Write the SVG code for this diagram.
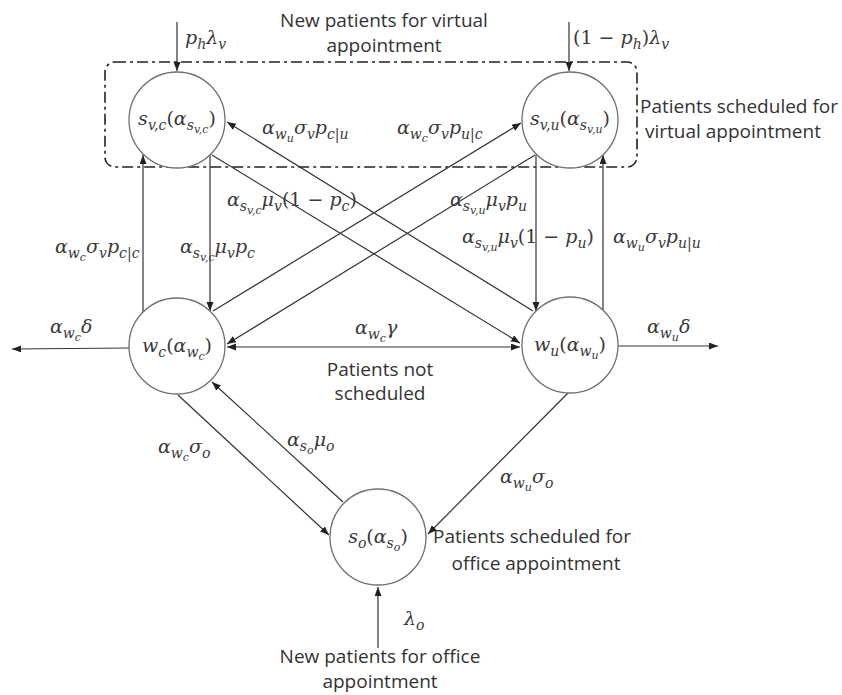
<svg xmlns="http://www.w3.org/2000/svg" width="842" height="695" viewBox="0 0 842 695">
<style>
.bg{fill:#fff}
.node{fill:#fff;stroke:#707070;stroke-width:1.3}
.ln{stroke:#333;stroke-width:1.2;fill:none}
.arr{marker-end:url(#ah)}
.box{fill:none;stroke:#222;stroke-width:1.6;stroke-dasharray:11 4 3 4}
.t{font-family:"Open Sans","Noto Sans",sans-serif;font-size:19px;fill:#333}
.m{font-family:"DejaVu Serif",serif;font-style:italic;font-size:19px;fill:#3a3a3a}
.r{font-style:normal}
.s{font-size:14px}
.ss{font-size:11px}
</style>
<defs>
<marker id="ah" markerUnits="userSpaceOnUse" markerWidth="10" markerHeight="8" refX="9" refY="3.5" orient="auto-start-reverse">
<path d="M0,0 L9,3.5 L0,7 z" fill="#222"/>
</marker>
</defs>
<rect class="bg" x="0" y="0" width="842" height="695"/>

<g id="virtual-group">
<rect class="box" x="105" y="62" width="532" height="105" rx="10"/>
<text class="t" x="640" y="113">Patients scheduled for</text>
<text class="t" x="645" y="138">virtual appointment</text>
</g>

<g id="connectors">
<line class="ln arr" x1="177" y1="22" x2="177" y2="71"/>
<line class="ln arr" x1="569" y1="22" x2="569" y2="71"/>
<line class="ln arr" x1="143" y1="313" x2="143" y2="155"/>
<line class="ln arr" x1="210" y1="154" x2="210" y2="311"/>
<line class="ln arr" x1="536" y1="155" x2="536" y2="311"/>
<line class="ln arr" x1="603" y1="311" x2="603" y2="155"/>
<line class="ln arr" x1="212" y1="155" x2="520" y2="343"/>
<line class="ln arr" x1="533" y1="311" x2="227" y2="122"/>
<line class="ln arr" x1="213" y1="311" x2="521" y2="123"/>
<line class="ln arr" x1="535" y1="155" x2="227" y2="344"/>
<line class="ln arr" x1="227" y1="347" x2="520" y2="347" style="marker-start:url(#ah)"/>
<line class="ln arr" x1="129" y1="348" x2="12" y2="349"/>
<line class="ln arr" x1="618" y1="346" x2="718" y2="346"/>
<line class="ln arr" x1="178" y1="395" x2="329" y2="535"/>
<line class="ln arr" x1="343" y1="502" x2="212" y2="382"/>
<line class="ln arr" x1="568" y1="393" x2="428" y2="534"/>
<line class="ln arr" x1="378" y1="648" x2="378" y2="587"/>
</g>

<g id="node-svc">
<circle class="node" cx="177" cy="120" r="48"/>
<text class="m" x="177" y="125" text-anchor="middle">s<tspan class="s" dy="5">v,c</tspan><tspan class="r" dy="-5">(</tspan>α<tspan class="s" dy="5">s</tspan><tspan class="ss" dy="3">v,c</tspan><tspan class="r" dy="-8">)</tspan></text>
</g>
<g id="node-svu">
<circle class="node" cx="570" cy="120" r="48"/>
<text class="m" x="570" y="125" text-anchor="middle">s<tspan class="s" dy="5">v,u</tspan><tspan class="r" dy="-5">(</tspan>α<tspan class="s" dy="5">s</tspan><tspan class="ss" dy="3">v,u</tspan><tspan class="r" dy="-8">)</tspan></text>
</g>
<g id="node-wc">
<circle class="node" cx="177" cy="346" r="48"/>
<text class="m" x="177" y="352" text-anchor="middle">w<tspan class="s" dy="5">c</tspan><tspan class="r" dy="-5">(</tspan>α<tspan class="s" dy="5">w</tspan><tspan class="ss" dy="3">c</tspan><tspan class="r" dy="-8">)</tspan></text>
</g>
<g id="node-wu">
<circle class="node" cx="570" cy="345" r="48"/>
<text class="m" x="570" y="351" text-anchor="middle">w<tspan class="s" dy="5">u</tspan><tspan class="r" dy="-5">(</tspan>α<tspan class="s" dy="5">w</tspan><tspan class="ss" dy="3">u</tspan><tspan class="r" dy="-8">)</tspan></text>
</g>
<g id="node-so">
<circle class="node" cx="378" cy="537" r="48"/>
<text class="m" x="378" y="543" text-anchor="middle">s<tspan class="s" dy="5">o</tspan><tspan class="r" dy="-5">(</tspan>α<tspan class="s" dy="5">s</tspan><tspan class="ss" dy="3">o</tspan><tspan class="r" dy="-8">)</tspan></text>
</g>

<g id="labels">
<text class="t" x="384" y="27" text-anchor="middle">New patients for virtual</text>
<text class="t" x="384" y="52" text-anchor="middle">appointment</text>
<text class="t" x="380" y="376" text-anchor="middle">Patients not</text>
<text class="t" x="380" y="400" text-anchor="middle">scheduled</text>
<text class="t" x="433" y="543">Patients scheduled for</text>
<text class="t" x="536" y="570" text-anchor="middle">office appointment</text>
<text class="t" x="380" y="663" text-anchor="middle">New patients for office</text>
<text class="t" x="380" y="688" text-anchor="middle">appointment</text>

<text class="m" x="185" y="44">p<tspan class="s" dy="5">h</tspan><tspan dy="-5">λ</tspan><tspan class="s" dy="5">v</tspan></text>
<text class="m" x="573" y="44"><tspan class="r">(1 − </tspan>p<tspan class="s" dy="5">h</tspan><tspan class="r" dy="-5">)</tspan>λ<tspan class="s" dy="5">v</tspan></text>

<text class="m" x="262" y="134">α<tspan class="s" dy="5">w</tspan><tspan class="ss" dy="3">u</tspan><tspan dy="-8">σ</tspan><tspan class="s" dy="5">v</tspan><tspan dy="-5">p</tspan><tspan class="s" dy="5">c|u</tspan></text>
<text class="m" x="397" y="134">α<tspan class="s" dy="5">w</tspan><tspan class="ss" dy="3">c</tspan><tspan dy="-8">σ</tspan><tspan class="s" dy="5">v</tspan><tspan dy="-5">p</tspan><tspan class="s" dy="5">u|c</tspan></text>

<text class="m" x="227" y="206">α<tspan class="s" dy="5">s</tspan><tspan class="ss" dy="3">v,c</tspan><tspan dy="-8">μ</tspan><tspan class="s" dy="5">v</tspan><tspan class="r" dy="-5">(1 − </tspan>p<tspan class="s" dy="5">c</tspan><tspan class="r" dy="-5">)</tspan></text>
<text class="m" x="450" y="206">α<tspan class="s" dy="5">s</tspan><tspan class="ss" dy="3">v,u</tspan><tspan dy="-8">μ</tspan><tspan class="s" dy="5">v</tspan><tspan dy="-5">p</tspan><tspan class="s" dy="5">u</tspan></text>

<text class="m" x="55" y="253">α<tspan class="s" dy="5">w</tspan><tspan class="ss" dy="3">c</tspan><tspan dy="-8">σ</tspan><tspan class="s" dy="5">v</tspan><tspan dy="-5">p</tspan><tspan class="s" dy="5">c|c</tspan></text>
<text class="m" x="180" y="253">α<tspan class="s" dy="5">s</tspan><tspan class="ss" dy="3">v,c</tspan><tspan dy="-8">μ</tspan><tspan class="s" dy="5">v</tspan><tspan dy="-5">p</tspan><tspan class="s" dy="5">c</tspan></text>

<text class="m" x="462" y="243">α<tspan class="s" dy="5">s</tspan><tspan class="ss" dy="3">v,u</tspan><tspan dy="-8">μ</tspan><tspan class="s" dy="5">v</tspan><tspan class="r" dy="-5">(1 − </tspan>p<tspan class="s" dy="5">u</tspan><tspan class="r" dy="-5">)</tspan></text>
<text class="m" x="613" y="243">α<tspan class="s" dy="5">w</tspan><tspan class="ss" dy="3">u</tspan><tspan dy="-8">σ</tspan><tspan class="s" dy="5">v</tspan><tspan dy="-5">p</tspan><tspan class="s" dy="5">u|u</tspan></text>

<text class="m" x="355" y="334">α<tspan class="s" dy="5">w</tspan><tspan class="ss" dy="3">c</tspan><tspan dy="-8">γ</tspan></text>
<text class="m" x="50" y="333">α<tspan class="s" dy="5">w</tspan><tspan class="ss" dy="3">c</tspan><tspan dy="-8">δ</tspan></text>
<text class="m" x="647" y="333">α<tspan class="s" dy="5">w</tspan><tspan class="ss" dy="3">u</tspan><tspan dy="-8">δ</tspan></text>

<text class="m" x="158" y="453">α<tspan class="s" dy="5">w</tspan><tspan class="ss" dy="3">c</tspan><tspan dy="-8">σ</tspan><tspan class="s" dy="5">o</tspan></text>
<text class="m" x="287" y="446">α<tspan class="s" dy="5">s</tspan><tspan class="ss" dy="3">o</tspan><tspan dy="-8">μ</tspan><tspan class="s" dy="5">o</tspan></text>
<text class="m" x="500" y="483">α<tspan class="s" dy="5">w</tspan><tspan class="ss" dy="3">u</tspan><tspan dy="-8">σ</tspan><tspan class="s" dy="5">o</tspan></text>
<text class="m" x="404" y="625">λ<tspan class="s" dy="5">o</tspan></text>
</g>
</svg>
